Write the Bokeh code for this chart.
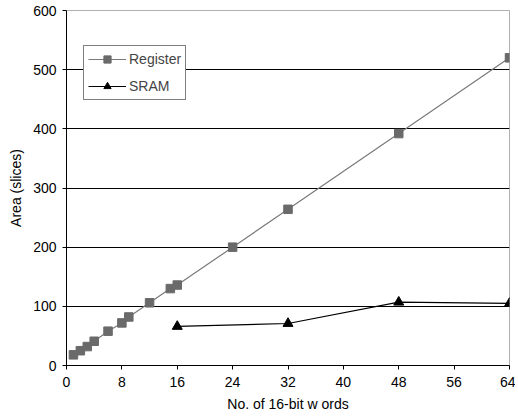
from bokeh.plotting import figure
from bokeh.models import Range1d, FixedTicker, Legend, LegendItem
from bokeh.embed import file_html
from bokeh.resources import INLINE

reg_x = [1, 2, 3, 4, 6, 8, 9, 12, 15, 16, 24, 32, 48, 64]
reg_y = [18, 25, 32, 41, 58, 72, 82, 106, 130, 136, 200, 264, 392, 520]
sram_x = [16, 32, 48, 64]
sram_y = [66, 71, 107, 105]
x_ticks = [0, 8, 16, 24, 32, 40, 48, 56, 64]
y_ticks = [0, 100, 200, 300, 400, 500, 600]

FONT = "Liberation Sans"

p = figure(width=515, height=410, output_backend="svg", toolbar_location=None,
           x_range=Range1d(0, 64), y_range=Range1d(0, 600),
           min_border_left=66, min_border_top=10, min_border_right=6, min_border_bottom=45)
p.frame_width = 443
p.frame_height = 355

p.background_fill_color = "white"
p.border_fill_color = "white"
p.outline_line_color = "#b0b0b0"
p.outline_line_width = 1

p.xgrid.visible = False
p.ygrid.grid_line_color = "black"
p.ygrid.grid_line_width = 1
p.ygrid.grid_line_alpha = 1.0

for ax in (p.xaxis[0], p.yaxis[0]):
    ax.axis_line_color = "black"
    ax.axis_line_width = 1
    ax.major_tick_line_color = "black"
    ax.major_tick_out = 4
    ax.major_tick_in = 0
    ax.minor_tick_line_color = None
    ax.major_label_text_font = FONT
    ax.major_label_text_font_size = "14px"
    ax.major_label_text_color = "black"
    ax.axis_label_text_font = FONT
    ax.axis_label_text_font_size = "14px"
    ax.axis_label_text_font_style = "normal"
    ax.axis_label_text_color = "black"

p.xaxis.ticker = FixedTicker(ticks=x_ticks)
p.yaxis.ticker = FixedTicker(ticks=y_ticks)
p.ygrid.ticker = FixedTicker(ticks=y_ticks[1:-1])
p.xaxis.axis_label = "No. of 16-bit w ords"
p.yaxis.axis_label = "Area (slices)"
p.xaxis.major_label_standoff = 7
p.yaxis.major_label_standoff = 6
p.xaxis.axis_label_standoff = 6
p.yaxis.axis_label_standoff = 6

r1 = p.line(reg_x, reg_y, line_color="#7a7a7a", line_width=1.2)
r1m = p.scatter(reg_x, reg_y, marker="square", size=8.5, fill_color="#6a6a6a",
                line_color="#6a6a6a")
r2 = p.line(sram_x, sram_y, line_color="black", line_width=1.2)
r2m = p.scatter(sram_x, sram_y, marker="triangle", size=10, fill_color="black",
                line_color="black")

legend = Legend(items=[LegendItem(label="Register", renderers=[r1, r1m]),
                       LegendItem(label="SRAM", renderers=[r2, r2m])],
                location=(17, 265))
legend.border_line_color = "black"
legend.border_line_width = 1
legend.background_fill_color = "white"
legend.background_fill_alpha = 1.0
legend.label_text_font = FONT
legend.label_text_font_size = "14px"
legend.glyph_width = 38
legend.glyph_height = 18
legend.spacing = 9
legend.padding = 4
legend.margin = 0
legend.label_standoff = 3
p.add_layout(legend, "center")

open("out.html", "w").write(file_html(p, INLINE))
